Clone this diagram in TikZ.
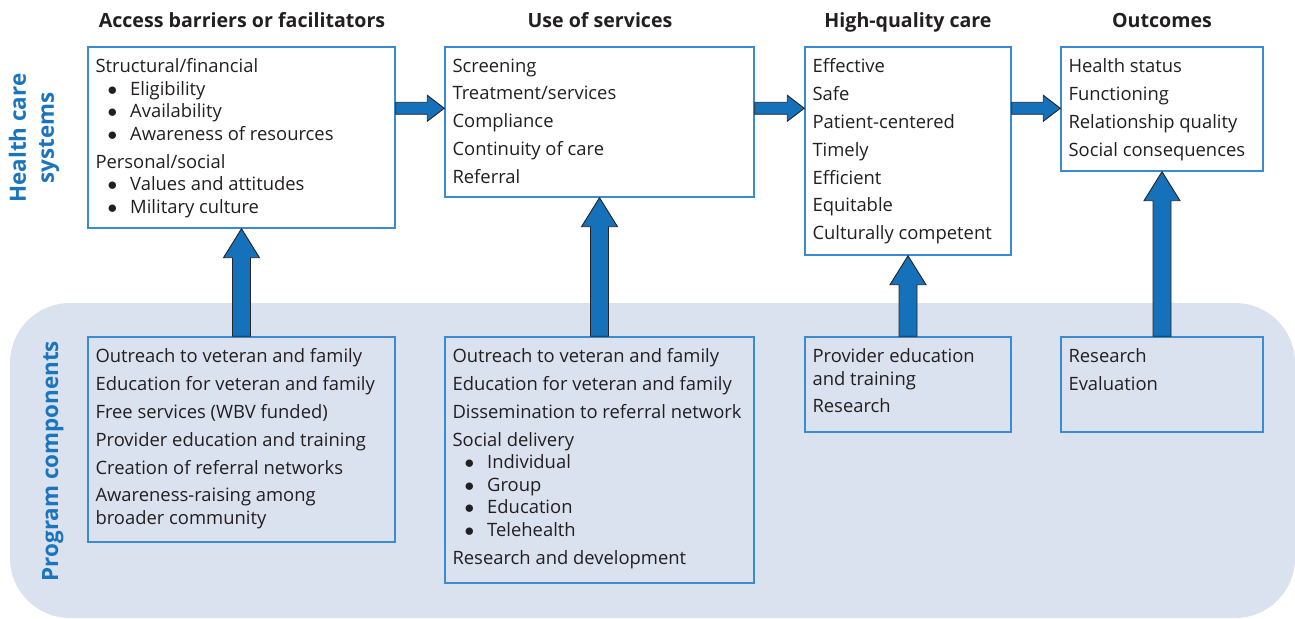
\documentclass[tikz,border=0pt]{standalone}
\usepackage{fontspec}
\setmainfont{Open Sans}
\usetikzlibrary{calc,fit}
\definecolor{bgfill}{RGB}{218,225,239}
\definecolor{boxblue}{RGB}{58,139,208}
\definecolor{arrowblue}{RGB}{21,113,186}
\definecolor{labelblue}{RGB}{26,117,188}
\definecolor{textgrey}{RGB}{35,31,32}
\tikzset{
  box/.style={draw=boxblue, line width=1.1pt, inner sep=0pt},
  txt/.style={anchor=north west, inner sep=0pt, align=left, text=textgrey, font=\fontsize{13.8}{16.9}\selectfont},
  heading/.style={anchor=base, inner sep=0pt, text=textgrey, font=\fontsize{14.7}{17}\selectfont\bfseries},
  side/.style={inner sep=0pt, align=center, text=labelblue, font=\fontsize{16.8}{21}\selectfont\bfseries},
  blockarrow/.style={fill=arrowblue, draw=black!85, line width=0.7pt, line join=miter}
}
\def\bul#1{\hspace*{9pt}\makebox[17pt][l]{$\bullet$}#1}
% horizontal block arrow from box #1 to box #2
\def\harrow#1#2{\draw[blockarrow] ($(#1.north east)+(0,56)$) -- ($(#2.north west)+(-17,56)$) -- ($(#2.north west)+(-17,49)$) -- ($(#2.north west)+(0,62)$) -- ($(#2.north west)+(-17,75)$) -- ($(#2.north west)+(-17,68)$) -- ($(#1.north east)+(0,68)$) -- cycle;}
% vertical block arrow from lower box #1 up to box #2
\def\varrow#1#2{\draw[blockarrow] ($(#1.north)+(-9,0)$) -- ($(#2.south)+(-9,29)$) -- ($(#2.south)+(-18,29)$) -- (#2.south) -- ($(#2.south)+(18,29)$) -- ($(#2.south)+(9,29)$) -- ($(#1.north)+(9,0)$) -- cycle;}

\begin{document}
\begin{tikzpicture}[x=0.75pt, y=-0.75pt]
			%%%%% START %%%%%
			\useasboundingbox (0,0) rectangle (1295,618);
			
			\fill[bgfill, rounded corners=45pt] (10,303) rectangle (1295,618);
			
			\node[heading] (hacc) at (242,27) {Access barriers or facilitators};
			\node[heading] (huse) at (600,27) {Use of services};
			\node[heading] (hqc) at (908,27) {High-quality care};
			\node[heading] (hout) at (1162,27) {Outcomes};
			
			\node[side, rotate=90] (hcs) at (34,138) {Health care\\systems};
			\node[side, rotate=90, anchor=base] (pc) at (58,461) {Program components};
			
			% health care systems row
			\node[box, fill=white, fit={(88,47) (395,228)}] (acc) {};
			\node[box, fill=white, fit={(445,47) (754,197)}] (use) {};
			\node[box, fill=white, fit={(805,47) (1011,255)}] (qual) {};
			\node[box, fill=white, fit={(1061,47) (1263,171)}] (out) {};
			
			\node[txt] (acctxt) at ($(acc.north west)+(8,12)$) {Structural/financial\\ \bul{Eligibility}\\ \bul{Availability}\\ \bul{Awareness of resources}\\[4pt] Personal/social\\ \bul{Values and attitudes}\\ \bul{Military culture}};
			\node[txt] (usetxt) at ($(use.north west)+(8,12)$) {Screening\\[4pt] Treatment/services\\[4pt] Compliance\\[4pt] Continuity of care\\[4pt] Referral};
			\node[txt] (qualtxt) at ($(qual.north west)+(8,12)$) {Effective\\[4pt] Safe\\[4pt] Patient-centered\\[4pt] Timely\\[4pt] Efficient\\[4pt] Equitable\\[4pt] Culturally competent};
			\node[txt] (outtxt) at ($(out.north west)+(8,12)$) {Health status\\[4pt] Functioning\\[4pt] Relationship quality\\[4pt] Social consequences};
			
			% program components row
			\node[box, fit={(88,337) (395,542)}] (pacc) {};
			\node[box, fit={(445,337) (754,583)}] (puse) {};
			\node[box, fit={(805,337) (1011,432)}] (pqual) {};
			\node[box, fit={(1061,337) (1263,432)}] (pout) {};
			
			\node[txt] (pacctxt) at ($(pacc.north west)+(8,12)$) {Outreach to veteran and family\\[4pt] Education for veteran and family\\[4pt] Free services (WBV funded)\\[4pt] Provider education and training\\[4pt] Creation of referral networks\\[4pt] Awareness-raising among\\ broader community};
			\node[txt] (pusetxt) at ($(puse.north west)+(8,12)$) {Outreach to veteran and family\\[4pt] Education for veteran and family\\[4pt] Dissemination to referral network\\[4pt] Social delivery\\ \bul{Individual}\\ \bul{Group}\\ \bul{Education}\\ \bul{Telehealth}\\[4pt] Research and development};
			\node[txt] (pqualtxt) at ($(pqual.north west)+(8,12)$) {Provider education\\ and training\\[4pt] Research};
			\node[txt] (pouttxt) at ($(pout.north west)+(8,12)$) {Research\\[4pt] Evaluation};
			
			% arrows
			\harrow{acc}{use}
			\harrow{use}{qual}
			\harrow{qual}{out}
			\varrow{pacc}{acc}
			\varrow{puse}{use}
			\varrow{pqual}{qual}
			\varrow{pout}{out}
			
			%%%%% END %%%%%
\end{tikzpicture}
\end{document}
